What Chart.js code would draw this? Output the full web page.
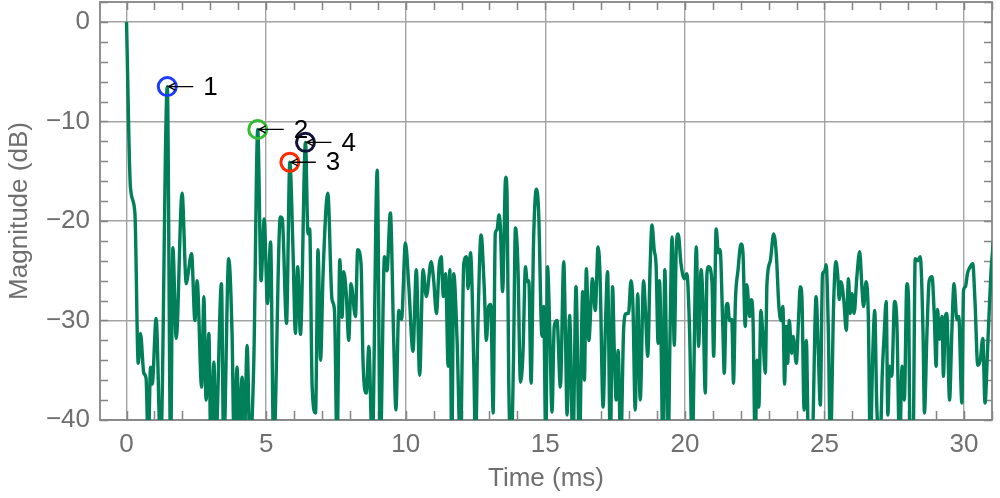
<!DOCTYPE html>
<html>
<head>
<meta charset="utf-8">
<script src="https://cdn.jsdelivr.net/npm/chart.js@4.4.1/dist/chart.umd.min.js"></script>
<style>
  html, body { margin: 0; padding: 0; background: #ffffff; }
  canvas { display: block; }
</style>
</head>
<body>
<canvas id="c" width="1000" height="498"></canvas>
<script>
// ---- data (time in ms, magnitude in dB) ----
const timeMs = [
  0, 0.14, 0.30, 0.42, 0.50, 0.62, 0.70, 0.78, 0.86, 0.92, 1.06, 1.22, 1.46, 1.58, 1.66, 1.78, 1.99, 2.14, 2.20, 2.33,
  2.45, 2.53, 2.69, 2.77, 2.85, 2.95, 3.02, 3.13, 3.20, 3.40, 3.48, 3.66, 3.78, 3.85, 3.96, 4.04, 4.14, 4.22, 4.32, 4.42,
  4.56, 4.70, 4.82, 4.93, 5.05, 5.16, 5.27, 5.51, 5.58, 5.73, 5.85, 5.96, 6.05, 6.13, 6.23, 6.41, 6.50, 6.56, 6.65, 6.77,
  6.86, 6.95, 7.04, 7.21, 7.36, 7.45, 7.54, 7.64, 7.72, 7.78, 7.87, 7.96, 8.04, 8.20, 8.28, 8.40, 8.47, 8.59, 8.68, 8.80,
  8.98, 9.09, 9.24, 9.33, 9.45, 9.57, 9.65, 9.75, 9.85, 9.99, 10.11, 10.26, 10.38, 10.50, 10.62, 10.74, 10.91, 11.00, 11.10, 11.20,
  11.27, 11.35, 11.43, 11.52, 11.58, 11.65, 11.72, 11.84, 11.96, 12.08, 12.18, 12.23, 12.32, 12.44, 12.50, 12.58, 12.70, 12.81, 12.89, 12.97,
  13.05, 13.13, 13.21, 13.27, 13.34, 13.39, 13.47, 13.58, 13.63, 13.69, 13.78, 13.86, 13.93, 14.02, 14.11, 14.20, 14.29, 14.35, 14.41, 14.49,
  14.58, 14.68, 14.76, 14.88, 14.94, 15.02, 15.08, 15.16, 15.24, 15.32, 15.42, 15.54, 15.66, 15.72, 15.78, 15.87, 15.99, 16.10, 16.22, 16.34,
  16.40, 16.47, 16.56, 16.69, 16.79, 16.89, 16.96, 17.07, 17.15, 17.23, 17.33, 17.41, 17.47, 17.54, 17.61, 17.70, 17.81, 17.90, 17.98, 18.07,
  18.14, 18.22, 18.31, 18.40, 18.52, 18.58, 18.67, 18.75, 18.82, 18.90, 18.97, 19.04, 19.09, 19.15, 19.21, 19.28, 19.40, 19.47, 19.54, 19.62,
  19.69, 19.76, 19.86, 19.98, 20.07, 20.17, 20.26, 20.41, 20.49, 20.58, 20.65, 20.73, 20.79, 20.85, 20.97, 21.03, 21.12, 21.20, 21.26, 21.36,
  21.41, 21.48, 21.53, 21.60, 21.68, 21.74, 21.81, 21.90, 22.01, 22.08, 22.16, 22.22, 22.32, 22.38, 22.44, 22.52, 22.58, 22.65, 22.72, 22.79,
  22.88, 22.94, 23.06, 23.18, 23.28, 23.36, 23.44, 23.51, 23.57, 23.63, 23.68, 23.74, 23.82, 23.88, 23.99, 24.07, 24.13, 24.19, 24.27, 24.35,
  24.43, 24.55, 24.70, 24.78, 24.85, 24.93, 25.00, 25.06, 25.14, 25.21, 25.33, 25.41, 25.47, 25.53, 25.59, 25.69, 25.78, 25.86, 25.92, 25.99,
  26.06, 26.16, 26.26, 26.34, 26.40, 26.49, 26.57, 26.64, 26.73, 26.80, 26.87, 26.99, 27.07, 27.14, 27.21, 27.27, 27.33, 27.41, 27.51, 27.59,
  27.69, 27.78, 27.86, 27.95, 28.01, 28.07, 28.17, 28.25, 28.34, 28.43, 28.53, 28.58, 28.67, 28.75, 28.85, 28.93, 29.00, 29.05, 29.12, 29.21,
  29.26, 29.33, 29.38, 29.48, 29.56, 29.64, 29.74, 29.81, 29.92, 29.98, 30.05, 30.12, 30.22, 30.31, 30.39, 30.49, 30.58, 30.67, 30.75, 30.84,
  30.96, 31.05
];
const magDb = [
  0, -16.6, -19.2, -34.3, -31.3, -35.3, -35.8, -43, -34.7, -36.4, -29.8, -43, -6.5, -43, -22.7, -31.8, -17.2, -26.3, -25.4, -23.3,
  -30.0, -26.0, -36.7, -27.6, -38.0, -31.3, -43, -34.2, -42, -26.3, -43, -23.8, -31.3, -42, -34.7, -42, -35.7, -42, -32.5, -43,
  -34.0, -10.8, -26.0, -19.8, -28.3, -22.1, -43, -19.6, -19.8, -30.3, -14.1, -22.6, -31.3, -24.6, -31.4, -12.1, -21.3, -20.8, -36.7, -39.3,
  -22.9, -34.0, -25.3, -17.2, -27.9, -29.0, -43, -23.9, -29.7, -25.1, -27.3, -32.0, -26.3, -29.6, -22.9, -24.3, -34.0, -37.3, -32.6, -43,
  -14.9, -43, -23.6, -25.0, -19.2, -32.0, -39.0, -29.0, -29.9, -22.2, -26.5, -33.1, -24.9, -35.5, -24.9, -27.6, -24.1, -25.9, -29.3, -24.5,
  -23.6, -27.6, -25.3, -34.6, -24.9, -43, -25.3, -32.0, -43, -24.3, -23.6, -26.8, -23.2, -34.6, -43, -31.3, -21.4, -26.5, -32.0, -28.6,
  -28.4, -39.3, -21.2, -20.9, -19.4, -20.6, -27.1, -15.6, -17.3, -36.0, -43, -34.0, -20.7, -24.6, -36.2, -33.3, -24.6, -26.1, -26.0, -36.3,
  -22.0, -16.8, -19.0, -31.6, -28.6, -43, -24.6, -31.0, -39.2, -30.6, -30.0, -36.7, -24.1, -31.0, -39.5, -29.5, -43, -26.6, -43, -27.1,
  -36.0, -24.8, -32.0, -25.8, -29.0, -22.6, -25.4, -38.7, -31.0, -25.1, -43, -26.6, -33.0, -38.0, -33.0, -43, -30.6, -29.3, -29.3, -26.0,
  -28.6, -39.0, -27.3, -38.0, -26.0, -28.6, -33.6, -25.0, -20.4, -22.9, -24.6, -32.3, -26.0, -32.6, -43, -24.9, -43, -31.0, -21.6, -32.5,
  -22.9, -21.3, -24.3, -25.8, -25.3, -31.3, -43, -22.6, -32.6, -24.9, -28.3, -37.3, -25.3, -24.6, -26.1, -33.6, -20.8, -23.2, -22.9, -30.9,
  -35.3, -28.6, -28.3, -30.0, -29.9, -36.3, -28.0, -25.0, -22.3, -23.2, -30.6, -26.4, -29.6, -27.9, -29.9, -43, -34.0, -38.7, -29.0, -31.3,
  -35.3, -26.3, -24.0, -21.3, -23.6, -28.3, -30.0, -28.6, -36.4, -30.6, -34.3, -30.0, -33.3, -31.6, -34.3, -29.9, -26.6, -27.6, -39.0, -32.0,
  -43, -43, -27.6, -33.3, -38.5, -25.3, -25.1, -24.4, -31.3, -43, -28.0, -24.1, -25.3, -27.9, -26.1, -27.9, -31.0, -25.8, -29.3, -27.3,
  -29.3, -25.6, -23.1, -26.6, -28.6, -26.1, -29.6, -43, -33.3, -29.0, -38.3, -43, -35.3, -31.3, -28.1, -39.5, -34.6, -35.6, -28.1, -30.0,
  -43, -34.6, -38.0, -26.3, -27.9, -43, -43, -23.8, -24.0, -23.6, -31.3, -39.3, -31.3, -26.0, -25.6, -29.3, -34.6, -28.9, -31.9, -29.6,
  -35.6, -29.6, -29.3, -38.0, -31.3, -26.3, -29.9, -29.6, -38.3, -27.0, -26.6, -25.3, -24.6, -24.3, -28.0, -34.5, -34.0, -31.8, -38.3, -33.0,
  -25.3, -22.0
];

// ---- marked peaks ----
const markerTime  = [1.46, 4.70, 5.85, 6.41];
const markerMag   = [-6.5, -10.8, -14.1, -12.1];
const markerLabel = ['1', '2', '3', '4'];

// ---- axis ticks ----
const xTickStep = 5;
const yTickStep = 10;

// ---- styles ----
const markerColor = ['#1a3dff', '#33bb33', '#ff2a00', '#12123a'];
const LINE_COLOR = '#007f58';
const GRID_COLOR = '#a3a3a3';
const FRAME_COLOR = '#858585';
const TEXT_COLOR = '#6f6f6f';
const FONT = '"Liberation Sans", Arial, Helvetica, sans-serif';

const decorations = {
  id: 'decorations',
  beforeDatasetsDraw(chart) {
    const { ctx, chartArea: a, scales: { x, y } } = chart;
    ctx.save();
    ctx.strokeStyle = FRAME_COLOR;
    ctx.lineWidth = 1.5;
    ctx.beginPath();
    for (let t = Math.ceil(x.min); t <= x.max; t++) {
      const px = Math.round(x.getPixelForValue(t)) + 0.5;
      ctx.moveTo(px, a.bottom); ctx.lineTo(px, a.bottom - 9);
      ctx.moveTo(px, a.top); ctx.lineTo(px, a.top + 8);
    }
    for (let v = Math.ceil(y.min / 2) * 2; v <= y.max; v += 2) {
      const py = Math.round(y.getPixelForValue(v)) + 0.5;
      ctx.moveTo(a.left, py); ctx.lineTo(a.left + 8, py);
      ctx.moveTo(a.right, py); ctx.lineTo(a.right - 8, py);
    }
    ctx.stroke();
    ctx.lineWidth = 1.8;
    ctx.strokeRect(a.left, a.top, a.right - a.left, a.bottom - a.top);
    ctx.restore();
  },
  afterDatasetsDraw(chart) {
    const { ctx, scales: { x, y } } = chart;
    ctx.save();
    ctx.strokeStyle = '#000';
    ctx.fillStyle = '#000';
    ctx.lineWidth = 1.3;
    ctx.font = '26px ' + FONT;
    ctx.textAlign = 'left';
    ctx.textBaseline = 'middle';
    markerTime.forEach((t, i) => {
      const cx = x.getPixelForValue(t);
      const cy = y.getPixelForValue(markerMag[i]);
      const tip = cx + 1;
      ctx.beginPath();
      ctx.moveTo(tip, cy); ctx.lineTo(tip + 25, cy);
      ctx.moveTo(tip + 7, cy - 3.5); ctx.lineTo(tip, cy); ctx.lineTo(tip + 7, cy + 3.5);
      ctx.stroke();
      ctx.fillText(markerLabel[i], cx + 36, cy + 1);
    });
    ctx.restore();
  }
};

const lineData = timeMs.map((t, i) => ({ x: t, y: magDb[i] }));
const markerSets = markerTime.map((t, i) => ({
  type: 'scatter',
  data: [{ x: t, y: markerMag[i] }],
  pointRadius: 9,
  pointBorderWidth: 3,
  pointBorderColor: markerColor[i],
  pointBackgroundColor: 'rgba(0,0,0,0)',
  borderColor: markerColor[i],
  backgroundColor: 'rgba(0,0,0,0)',
  order: 0
}));

new Chart(document.getElementById('c'), {
  type: 'line',
  data: {
    datasets: [
      {
        data: lineData,
        borderColor: LINE_COLOR,
        borderWidth: 3.4,
        pointRadius: 0,
        fill: false,
        cubicInterpolationMode: 'monotone',
        order: 1
      },
      ...markerSets
    ]
  },
  options: {
    responsive: false,
    animation: false,
    events: [],
    layout: { autoPadding: false, padding: { top: 2, right: 8, left: 0, bottom: 0 } },
    plugins: { legend: { display: false }, tooltip: { enabled: false } },
    scales: {
      x: {
        type: 'linear',
        min: -0.95,
        max: 31,
        afterFit(s) { s.height = 78; s.paddingLeft = 0; s.paddingRight = 0; },
        ticks: {
          stepSize: xTickStep,
          includeBounds: false,
          color: TEXT_COLOR,
          font: { family: FONT, size: 26 },
          padding: 9,
          maxRotation: 0
        },
        grid: { color: GRID_COLOR, lineWidth: 1.4, drawTicks: false },
        border: { display: false },
        title: {
          display: true,
          text: 'Time (ms)',
          color: TEXT_COLOR,
          font: { family: FONT, size: 26 },
          padding: { top: 0, bottom: 4 }
        }
      },
      y: {
        type: 'linear',
        min: -40,
        max: 2,
        afterFit(s) { s.width = 100; s.paddingTop = 0; s.paddingBottom = 0; },
        ticks: {
          stepSize: yTickStep,
          includeBounds: false,
          color: TEXT_COLOR,
          font: { family: FONT, size: 26 },
          padding: 10,
          callback: v => String(v).replace('-', '\u2212')
        },
        grid: { color: GRID_COLOR, lineWidth: 1.4, drawTicks: false },
        border: { display: false },
        title: {
          display: true,
          text: 'Magnitude (dB)',
          color: TEXT_COLOR,
          font: { family: FONT, size: 26 },
          padding: { top: 4, bottom: 0 }
        }
      }
    }
  },
  plugins: [decorations]
});
</script>
</body>
</html>
